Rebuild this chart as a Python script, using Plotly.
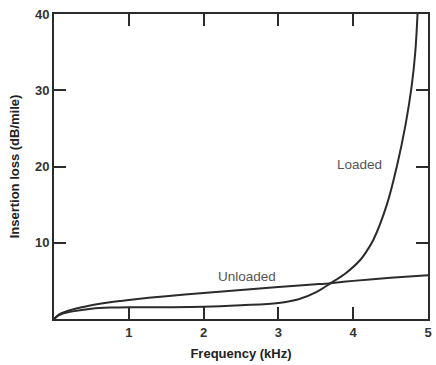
import plotly.graph_objects as go

# Data
freq_unloaded = [0, 0.05, 0.1, 0.25, 0.5, 0.75, 1.0, 1.5, 2.0, 2.5, 3.0, 3.5, 3.7, 4.0, 4.5, 5.0]
loss_unloaded = [0, 0.45, 0.75, 1.25, 1.8, 2.2, 2.5, 3.0, 3.4, 3.8, 4.2, 4.55, 4.7, 5.0, 5.4, 5.75]

freq_loaded = [0, 0.05, 0.1, 0.25, 0.5, 0.75, 1.0, 1.5, 2.0, 2.5, 3.0, 3.27, 3.5, 3.7, 3.9, 4.1, 4.18, 4.27, 4.45, 4.59, 4.7, 4.78, 4.83, 4.86]
loss_loaded = [0, 0.4, 0.65, 1.0, 1.35, 1.5, 1.55, 1.55, 1.6, 1.8, 2.1, 2.6, 3.5, 4.7, 6.0, 7.8, 8.9, 10.4, 15.0, 20.3, 25.5, 30.4, 35.0, 40.0]

x_ticks = [1, 2, 3, 4, 5]
y_ticks = [10, 20, 30, 40]

line_color = "#2b2b2b"
font_family = "Liberation Sans, Arial, sans-serif"

fig = go.Figure()
fig.add_trace(go.Scatter(x=freq_unloaded, y=loss_unloaded, mode="lines",
                         line=dict(color=line_color, width=2, shape="spline", smoothing=0.8),
                         showlegend=False, hoverinfo="skip"))
fig.add_trace(go.Scatter(x=freq_loaded, y=loss_loaded, mode="lines",
                         line=dict(color=line_color, width=2, shape="spline", smoothing=1.0),
                         showlegend=False, hoverinfo="skip", cliponaxis=True))

fig.add_annotation(x=2.58, y=5.6, text="Unloaded", showarrow=False,
                   font=dict(family=font_family, size=13.5, color="#555"))
fig.add_annotation(x=4.09, y=20.3, text="Loaded", showarrow=False,
                   font=dict(family=font_family, size=13.5, color="#555"))

axis_common = dict(showgrid=False, zeroline=False, showline=True, linecolor=line_color,
                   linewidth=2, mirror="ticks", ticks="inside", ticklen=12, tickwidth=1.5,
                   tickcolor=line_color,
                   tickfont=dict(family=font_family, size=13, color="#333", weight="bold"))

fig.update_xaxes(range=[0, 5], tickvals=x_ticks, ticktext=[str(v) for v in x_ticks],
                 title=dict(text="Frequency (kHz)", standoff=10,
                            font=dict(family=font_family, size=13, color="#222", weight="bold")),
                 **axis_common)
fig.update_yaxes(range=[0, 40], tickvals=y_ticks, ticktext=[str(v) for v in y_ticks],
                 title=dict(text="Insertion loss (dB/mile)", standoff=12,
                            font=dict(family=font_family, size=13, color="#222", weight="bold")),
                 **axis_common)

fig.update_layout(width=436, height=365, margin=dict(l=54, r=4, t=14, b=46),
                  paper_bgcolor="white", plot_bgcolor="white")

fig.write_html("out.html")
